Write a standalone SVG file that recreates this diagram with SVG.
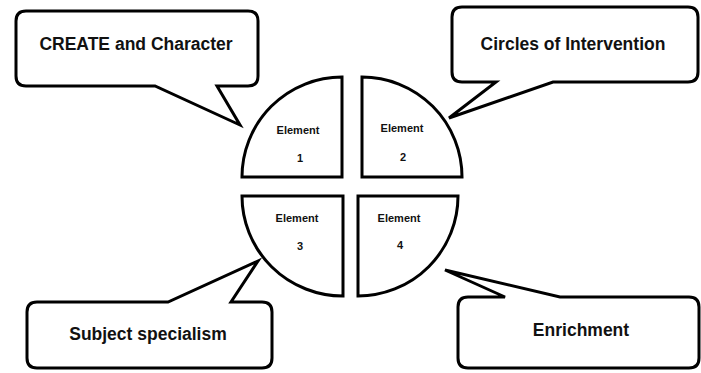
<svg xmlns="http://www.w3.org/2000/svg" width="701" height="373" viewBox="0 0 701 373">
<style>
.shape{fill:#fff;stroke:#000;stroke-width:3;stroke-linejoin:miter}
.big{font-family:"Liberation Sans",Arial,sans-serif;font-weight:bold;font-size:17.5px;fill:#111;text-anchor:middle}
.small{font-family:"Liberation Sans",Arial,sans-serif;font-weight:bold;font-size:11px;fill:#111;text-anchor:middle}
</style>
<rect width="701" height="373" fill="#fff"/>
<g id="connectors"></g>
<g id="callout1">
<path class="shape" d="M26,11 H248 Q258,11 258,21 V76 Q258,86 248,86 H217 L240,125 L155,86 H26 Q16,86 16,76 V21 Q16,11 26,11 Z"/>
<text class="big" x="136" y="50">CREATE and Character</text>
</g>
<g id="callout2">
<path class="shape" d="M462,7 H688 Q698,7 698,17 V72 Q698,82 688,82 H553 L449,118 L496,82 H462 Q452,82 452,72 V17 Q452,7 462,7 Z"/>
<text class="big" x="573" y="50">Circles of Intervention</text>
</g>
<g id="callout3">
<path class="shape" d="M37,302 H168 L258,261 L231,302 H262 Q272,302 272,312 V358 Q272,368 262,368 H37 Q27,368 27,358 V312 Q27,302 37,302 Z"/>
<text class="big" x="148" y="340">Subject specialism</text>
</g>
<g id="callout4">
<path class="shape" d="M468,297 H505 L445,270 L560,297 H689 Q699,297 699,307 V358 Q699,368 689,368 H468 Q458,368 458,358 V307 Q458,297 468,297 Z"/>
<text class="big" x="581" y="336">Enrichment</text>
</g>
<g id="element1">
<path class="shape" d="M342,177 H242 A100,100 0 0 1 342,77 Z"/>
<text class="small" x="298" y="134">Element</text>
<text class="small" x="300" y="162">1</text>
</g>
<g id="element2">
<path class="shape" d="M362,77 A100,100 0 0 1 462,177 H362 Z"/>
<text class="small" x="402" y="132">Element</text>
<text class="small" x="403" y="161">2</text>
</g>
<g id="element3">
<path class="shape" d="M343,196 V296 A101,100 0 0 1 242,196 Z"/>
<text class="small" x="297" y="222">Element</text>
<text class="small" x="300" y="250">3</text>
</g>
<g id="element4">
<path class="shape" d="M358,196 H458 A100,100 0 0 1 358,296 Z"/>
<text class="small" x="399" y="222">Element</text>
<text class="small" x="400" y="249">4</text>
</g>
</svg>
